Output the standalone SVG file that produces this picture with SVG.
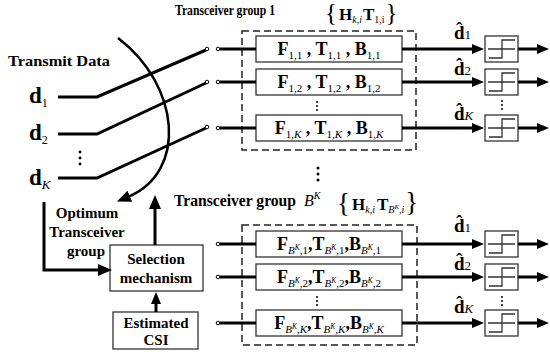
<svg xmlns="http://www.w3.org/2000/svg" width="550" height="354" viewBox="0 0 550 354">
<defs>
<marker id="ah" viewBox="0 0 12 10" refX="2" refY="5" markerWidth="12" markerHeight="11" markerUnits="userSpaceOnUse" orient="auto"><path d="M0,0 L12,5 L0,10 z" fill="#000"/></marker>
<marker id="ahb" viewBox="0 0 14 12" refX="2" refY="6" markerWidth="14" markerHeight="13" markerUnits="userSpaceOnUse" orient="auto"><path d="M0,0 L14,6 L0,12 z" fill="#000"/></marker>
</defs>
<style>
text{font-family:"Liberation Serif","Times New Roman",serif;fill:#000}
.b{font-weight:bold}
.t{font-weight:bold;font-size:15px}
.box{fill:#fff;stroke:#333;stroke-width:1.3}
.dash{fill:none;stroke:#222;stroke-width:1.5;stroke-dasharray:7 4}
.sig{fill:none;stroke:#000;stroke-width:3}
.thin{fill:none;stroke:#000;stroke-width:2.5}
.ct{fill:#fff;stroke:#000;stroke-width:1}
.step{fill:none;stroke:#333;stroke-width:1.3}
.fb{font-weight:bold;font-size:18px}
.s{font-size:11px;font-weight:normal}
.si{font-size:11px;font-weight:normal;font-style:italic}
.sup{font-size:7.5px;font-weight:normal;font-style:italic}
.dh{font-weight:bold;font-size:19px}
.dot{fill:#000}
</style>
<rect width="550" height="354" fill="#fff"/>

<!-- titles -->
<text class="b" x="8" y="66" font-size="15" textLength="102" lengthAdjust="spacingAndGlyphs">Transmit Data</text>
<text class="b" x="175" y="15" font-size="15" textLength="100" lengthAdjust="spacingAndGlyphs">Transceiver group 1</text>
<text x="325" y="21"><tspan font-size="25">{</tspan><tspan class="b" font-size="17" dx="2" dy="-1">H</tspan><tspan font-size="10" font-style="italic" dy="3">k,i</tspan><tspan class="b" font-size="17" dx="1" dy="-3">T</tspan><tspan font-size="10" dy="3">1,i</tspan><tspan font-size="25" dx="1" dy="-2">}</tspan></text>
<text class="b" x="174" y="206" font-size="16" textLength="122" lengthAdjust="spacingAndGlyphs">Transceiver group</text>
<text x="304" y="206" font-size="16" font-style="italic">B<tspan font-size="10" dy="-7">K</tspan></text>
<text x="337" y="212"><tspan font-size="27">{</tspan><tspan class="b" font-size="17" dx="2" dy="-2">H</tspan><tspan font-size="10" font-style="italic" dy="3">k,i</tspan><tspan class="b" font-size="17" dx="2" dy="-3">T</tspan><tspan font-size="10" font-style="italic" dy="3">B</tspan><tspan font-size="7" font-style="italic" dy="-4">K</tspan><tspan font-size="10" font-style="italic" dy="4">,i</tspan><tspan font-size="27" dx="1" dy="-2">}</tspan></text>

<!-- left data labels -->
<g id="d1"><text class="b" x="29" y="103" font-size="23">d<tspan font-size="12" font-weight="normal" dy="4">1</tspan></text></g>
<g id="d2"><text class="b" x="29" y="140" font-size="23">d<tspan font-size="12" font-weight="normal" dy="4">2</tspan></text></g>
<g id="ddots"><circle class="dot" cx="80" cy="152" r="1.4"/><circle class="dot" cx="80" cy="158" r="1.4"/><circle class="dot" cx="80" cy="164" r="1.4"/></g>
<g id="dK"><text class="b" x="29" y="185" font-size="23">d<tspan font-size="13" font-weight="normal" font-style="italic" dy="4">K</tspan></text></g>

<!-- optimum text -->
<g id="optimum">
<text class="t" x="87" y="218" text-anchor="middle">Optimum</text>
<text class="t" x="87" y="237" text-anchor="middle">Transceiver</text>
<text class="t" x="86" y="256" text-anchor="middle">group</text>
</g>

<!-- selection & CSI -->
<g id="selection"><rect class="box" x="110" y="245" width="93" height="46"/>
<text class="t" x="156" y="264" text-anchor="middle">Selection</text>
<text class="t" x="156" y="283" text-anchor="middle">mechanism</text></g>
<g id="csi"><rect class="box" x="113" y="312" width="85" height="37"/>
<text class="t" x="156" y="328" text-anchor="middle">Estimated</text>
<text class="t" x="156" y="345" text-anchor="middle">CSI</text></g>

<!-- group 1 -->
<g id="group1">
<rect class="dash" x="242" y="31" width="174" height="119"/>
<rect class="box" x="256" y="36" width="146" height="26"/>
<text class="fb" x="329" y="55" text-anchor="middle">F<tspan class="s" dy="4">1,1</tspan><tspan dy="-4"> , T</tspan><tspan class="s" dy="4">1,1</tspan><tspan dy="-4"> , B</tspan><tspan class="s" dy="4">1,1</tspan></text>
<rect class="box" x="256" y="69" width="146" height="26"/>
<text class="fb" x="329" y="88" text-anchor="middle">F<tspan class="s" dy="4">1,2</tspan><tspan dy="-4"> , T</tspan><tspan class="s" dy="4">1,2</tspan><tspan dy="-4"> , B</tspan><tspan class="s" dy="4">1,2</tspan></text>
<circle class="dot" cx="317" cy="102" r="1"/><circle class="dot" cx="317" cy="106" r="1"/><circle class="dot" cx="317" cy="110" r="1"/>
<rect class="box" x="256" y="115" width="146" height="26"/>
<text class="fb" x="329" y="134" text-anchor="middle">F<tspan class="s" dy="4">1,</tspan><tspan class="si">K</tspan><tspan dy="-4"> , T</tspan><tspan class="s" dy="4">1,</tspan><tspan class="si">K</tspan><tspan dy="-4"> , B</tspan><tspan class="s" dy="4">1,</tspan><tspan class="si">K</tspan></text>
</g>

<!-- middle dots -->
<g id="middots"><circle class="dot" cx="318" cy="168" r="1.5"/><circle class="dot" cx="318" cy="174" r="1.5"/><circle class="dot" cx="318" cy="180" r="1.5"/></g>

<!-- group 2 -->
<g id="group2">
<rect class="dash" x="242" y="225" width="175" height="120"/>
<rect class="box" x="256" y="231" width="146" height="26"/>
<text class="fb" x="329" y="250" text-anchor="middle">F<tspan class="si" dy="4">B</tspan><tspan class="sup" dy="-4">K</tspan><tspan class="s" dy="4">,1</tspan><tspan dy="-4">,T</tspan><tspan class="si" dy="4">B</tspan><tspan class="sup" dy="-4">K</tspan><tspan class="s" dy="4">,1</tspan><tspan dy="-4">,B</tspan><tspan class="si" dy="4">B</tspan><tspan class="sup" dy="-4">K</tspan><tspan class="s" dy="4">,1</tspan></text>
<rect class="box" x="256" y="264" width="146" height="26"/>
<text class="fb" x="329" y="283" text-anchor="middle">F<tspan class="si" dy="4">B</tspan><tspan class="sup" dy="-4">K</tspan><tspan class="s" dy="4">,2</tspan><tspan dy="-4">,T</tspan><tspan class="si" dy="4">B</tspan><tspan class="sup" dy="-4">K</tspan><tspan class="s" dy="4">,2</tspan><tspan dy="-4">,B</tspan><tspan class="si" dy="4">B</tspan><tspan class="sup" dy="-4">K</tspan><tspan class="s" dy="4">,2</tspan></text>
<circle class="dot" cx="317" cy="297" r="1"/><circle class="dot" cx="317" cy="301" r="1"/><circle class="dot" cx="317" cy="305" r="1"/>
<rect class="box" x="256" y="310" width="146" height="26"/>
<text class="fb" x="329" y="329" text-anchor="middle">F<tspan class="si" dy="4">B</tspan><tspan class="sup" dy="-4">K</tspan><tspan class="si" dy="4">,K</tspan><tspan dy="-4">,T</tspan><tspan class="si" dy="4">B</tspan><tspan class="sup" dy="-4">K</tspan><tspan class="si" dy="4">,K</tspan><tspan dy="-4">,B</tspan><tspan class="si" dy="4">B</tspan><tspan class="sup" dy="-4">K</tspan><tspan class="si" dy="4">,K</tspan></text>
</g>

<!-- decision blocks -->
<g id="dec1"><rect class="box" x="485" y="36" width="33" height="26"/><path class="step" d="M488,49 H515 M489,58 H502 V40 H515"/></g>
<g id="dec2"><rect class="box" x="485" y="69" width="33" height="26"/><path class="step" d="M488,82 H515 M489,91 H502 V73 H515"/></g>
<g id="dec3"><rect class="box" x="485" y="115" width="33" height="26"/><path class="step" d="M488,128 H515 M489,137 H502 V119 H515"/></g>
<g id="dec4"><rect class="box" x="485" y="231" width="33" height="26"/><path class="step" d="M488,244 H515 M489,253 H502 V235 H515"/></g>
<g id="dec5"><rect class="box" x="485" y="264" width="33" height="26"/><path class="step" d="M488,277 H515 M489,286 H502 V268 H515"/></g>
<g id="dec6"><rect class="box" x="485" y="310" width="33" height="26"/><path class="step" d="M488,323 H515 M489,332 H502 V314 H515"/></g>
<g id="decdots"><circle class="dot" cx="502" cy="101" r="1"/><circle class="dot" cx="502" cy="105" r="1"/><circle class="dot" cx="502" cy="109" r="1"/>
<circle class="dot" cx="502" cy="297" r="1"/><circle class="dot" cx="502" cy="301" r="1"/><circle class="dot" cx="502" cy="305" r="1"/></g>

<!-- estimate labels -->
<g id="est">
<text class="dh" x="454" y="39">d̂<tspan font-size="13" font-weight="normal">1</tspan></text>
<text class="dh" x="454" y="75">d̂<tspan font-size="13" font-weight="normal">2</tspan></text>
<text class="dh" x="454" y="120">d̂<tspan font-size="13" font-weight="normal" font-style="italic">K</tspan></text>
<text class="dh" x="454" y="232">d̂<tspan font-size="13" font-weight="normal">1</tspan></text>
<text class="dh" x="454" y="270">d̂<tspan font-size="13" font-weight="normal">2</tspan></text>
<text class="dh" x="454" y="313">d̂<tspan font-size="13" font-weight="normal" font-style="italic">K</tspan></text>
</g>

<!-- connectors -->
<g id="connectors">
<polyline class="sig" points="58,97 97,97 206,50"/>
<polyline class="sig" points="58,134 97,134 206,83"/>
<polyline class="sig" points="58,178 97,178 206,128"/>
<path class="thin" d="M118,38 C180,85 188,172 128,197" marker-end="url(#ahb)"/>
<polyline class="sig" points="44,202 44,270 100,270" marker-end="url(#ahb)"/>
<line class="sig" x1="155" y1="245" x2="155" y2="207" marker-end="url(#ahb)"/>
<line class="sig" x1="156" y1="312" x2="156" y2="302" marker-end="url(#ah)"/>
<line class="sig" x1="220" y1="49" x2="256" y2="49"/>
<line class="sig" x1="220" y1="82" x2="256" y2="82"/>
<line class="sig" x1="220" y1="128" x2="256" y2="128"/>
<line class="sig" x1="220" y1="244" x2="256" y2="244"/>
<line class="sig" x1="220" y1="277" x2="256" y2="277"/>
<line class="sig" x1="220" y1="323" x2="256" y2="323"/>
<circle class="ct" cx="207" cy="49" r="1.8"/><circle class="ct" cx="218" cy="49" r="1.8"/>
<circle class="ct" cx="207" cy="82" r="1.8"/><circle class="ct" cx="218" cy="82" r="1.8"/>
<circle class="ct" cx="207" cy="127" r="1.8"/><circle class="ct" cx="218" cy="128" r="1.8"/>
<circle class="ct" cx="218" cy="244" r="1.8"/><circle class="ct" cx="218" cy="277" r="1.8"/><circle class="ct" cx="218" cy="323" r="1.8"/>
<line class="sig" x1="402" y1="49" x2="474" y2="49" marker-end="url(#ah)"/>
<line class="sig" x1="402" y1="82" x2="474" y2="82" marker-end="url(#ah)"/>
<line class="sig" x1="402" y1="128" x2="474" y2="128" marker-end="url(#ah)"/>
<line class="sig" x1="402" y1="244" x2="474" y2="244" marker-end="url(#ah)"/>
<line class="sig" x1="402" y1="277" x2="474" y2="277" marker-end="url(#ah)"/>
<line class="sig" x1="402" y1="323" x2="474" y2="323" marker-end="url(#ah)"/>
<line class="sig" x1="518" y1="49" x2="539" y2="49" marker-end="url(#ah)"/>
<line class="sig" x1="518" y1="82" x2="539" y2="82" marker-end="url(#ah)"/>
<line class="sig" x1="518" y1="128" x2="539" y2="128" marker-end="url(#ah)"/>
<line class="sig" x1="518" y1="244" x2="539" y2="244" marker-end="url(#ah)"/>
<line class="sig" x1="518" y1="277" x2="539" y2="277" marker-end="url(#ah)"/>
<line class="sig" x1="518" y1="323" x2="539" y2="323" marker-end="url(#ah)"/>
</g>
</svg>
